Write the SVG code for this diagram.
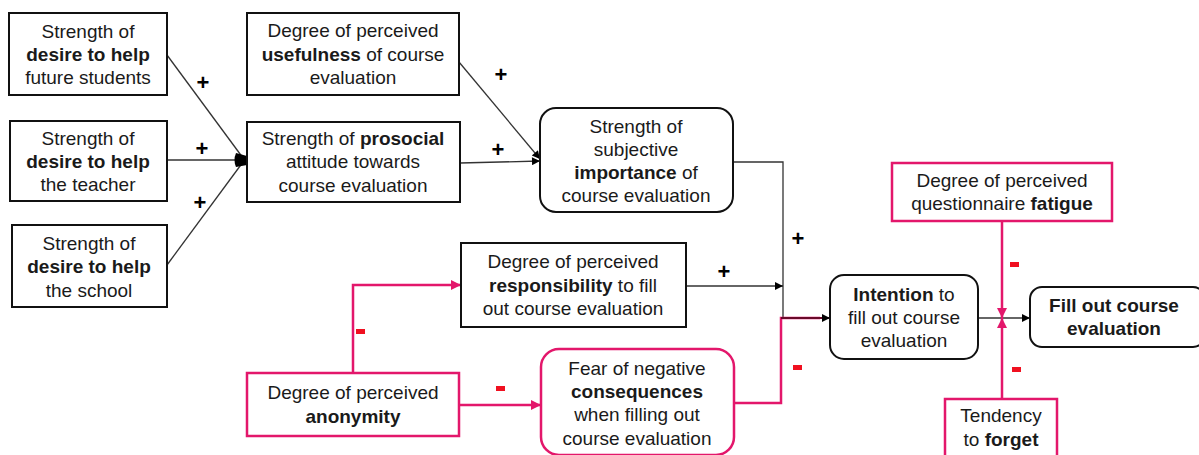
<svg xmlns="http://www.w3.org/2000/svg" width="1199" height="455" viewBox="0 0 1199 455">
<style>
text{font-family:"Liberation Sans",Arial,sans-serif;font-size:19px;fill:#1a1a1a;text-anchor:middle}
.b{font-weight:bold}
.box{fill:#fff;stroke:#111;stroke-width:2}
.pbox{fill:#fff;stroke:#e3176b;stroke-width:2.5}
.ln{fill:none;stroke:#333;stroke-width:1.3}
.pl{fill:none;stroke:#e3176b;stroke-width:2.5}
.plus{font-weight:bold;font-size:22px;fill:#000}
.minus{fill:#f01020}
</style>
<defs>
<marker id="ah" viewBox="0 0 10 10" refX="10" refY="5" markerWidth="10" markerHeight="8" markerUnits="userSpaceOnUse" orient="auto"><path d="M0,0 L10,5 L0,10 z" fill="#000"/></marker>
<marker id="ap" viewBox="0 0 10 10" refX="10" refY="5" markerWidth="11" markerHeight="10" markerUnits="userSpaceOnUse" orient="auto"><path d="M0,0 L10,5 L0,10 z" fill="#e3176b"/></marker>
</defs>
<g id="connectors">
<line class="ln" x1="167" y1="55" x2="243" y2="158"/>
<line class="ln" x1="167" y1="160" x2="243" y2="160"/>
<line class="ln" x1="167" y1="265" x2="243" y2="162"/>
<path d="M236,153 L247,156 L247,165 L236,167 Q233,160 236,153 z" fill="#000"/>
<line class="ln" x1="459" y1="62" x2="540" y2="159" marker-end="url(#ah)"/>
<line class="ln" x1="460" y1="163" x2="540" y2="161" marker-end="url(#ah)"/>
<polyline class="ln" points="733,162 783,162 783,318"/>
<line class="ln" x1="686" y1="286" x2="783" y2="286" marker-end="url(#ah)"/>
<polyline class="pl" points="734,403 781,403 781,318 820,318"/>
<line x1="781" y1="318" x2="830" y2="318" stroke="#6a0a2a" stroke-width="2" marker-end="url(#ah)"/>
<polyline class="pl" points="353,373 353,285 461,285" marker-end="url(#ap)"/>
<line class="pl" x1="459" y1="405" x2="541" y2="405" marker-end="url(#ap)"/>
<line class="ln" x1="968" y1="318" x2="1030" y2="318" marker-end="url(#ah)"/>
<line class="pl" x1="1002" y1="221" x2="1002" y2="318" marker-end="url(#ap)"/>
<line class="pl" x1="1002" y1="399" x2="1002" y2="318" marker-end="url(#ap)"/>
<text class="plus" x="203" y="90">+</text>
<text class="plus" x="202" y="156">+</text>
<text class="plus" x="200" y="210">+</text>
<text class="plus" x="501" y="82">+</text>
<text class="plus" x="498" y="157">+</text>
<text class="plus" x="724" y="279">+</text>
<text class="plus" x="798" y="246">+</text>
<rect class="minus" x="356" y="329" width="9" height="5"/>
<rect class="minus" x="496" y="386" width="9" height="5"/>
<rect class="minus" x="793" y="365" width="9" height="5"/>
<rect class="minus" x="1010" y="262" width="9" height="5"/>
<rect class="minus" x="1012" y="367" width="9" height="5"/>
</g>
<g id="n1"><rect class="box" x="9" y="13" width="158" height="82"/>
<text x="88" y="38">Strength of</text><text x="88" y="61" class="b">desire to help</text><text x="88" y="84">future students</text></g>
<g id="n2"><rect class="box" x="10" y="121" width="157" height="80"/>
<text x="88" y="145">Strength of</text><text x="88" y="168" class="b">desire to help</text><text x="88" y="191">the teacher</text></g>
<g id="n3"><rect class="box" x="12" y="225" width="155" height="82"/>
<text x="89" y="250">Strength of</text><text x="89" y="273" class="b">desire to help</text><text x="89" y="297">the school</text></g>
<g id="n4"><rect class="box" x="247" y="13" width="212" height="82"/>
<text x="353" y="37">Degree of perceived</text><text x="353" y="61"><tspan class="b">usefulness</tspan> of course</text><text x="353" y="84">evaluation</text></g>
<g id="n5"><rect class="box" x="247" y="122" width="213" height="80"/>
<text x="353" y="145">Strength of <tspan class="b">prosocial</tspan></text><text x="353" y="168">attitude towards</text><text x="353" y="192">course evaluation</text></g>
<g id="n6"><rect class="box" x="540" y="108" width="193" height="104" rx="16"/>
<text x="636" y="133">Strength of</text><text x="636" y="156">subjective</text><text x="636" y="179"><tspan class="b">importance</tspan> of</text><text x="636" y="202">course evaluation</text></g>
<g id="n7"><rect class="box" x="461" y="243" width="225" height="84"/>
<text x="573" y="268">Degree of perceived</text><text x="573" y="292"><tspan class="b">responsibility</tspan> to fill</text><text x="573" y="315">out course evaluation</text></g>
<g id="n8"><rect class="pbox" x="541" y="349" width="193" height="106" rx="18"/>
<text x="637" y="375">Fear of negative</text><text x="637" y="398" class="b">consequences</text><text x="637" y="421">when filling out</text><text x="637" y="445">course evaluation</text></g>
<g id="n9"><rect class="pbox" x="247" y="373" width="212" height="63"/>
<text x="353" y="399">Degree of perceived</text><text x="353" y="423" class="b">anonymity</text></g>
<g id="n10"><rect class="box" x="830" y="275" width="148" height="84" rx="14"/>
<text x="904" y="301"><tspan class="b">Intention</tspan> to</text><text x="904" y="324">fill out course</text><text x="904" y="347">evaluation</text></g>
<g id="n11"><rect class="box" x="1030" y="287" width="175" height="60" rx="12"/>
<text x="1114" y="312" class="b">Fill out course</text><text x="1114" y="335" class="b">evaluation</text></g>
<g id="n12"><rect class="pbox" x="892" y="163" width="220" height="58"/>
<text x="1002" y="187">Degree of perceived</text><text x="1002" y="210">questionnaire <tspan class="b">fatigue</tspan></text></g>
<g id="n13"><rect class="pbox" x="945" y="399" width="112" height="62"/>
<text x="1001" y="422">Tendency</text><text x="1001" y="446">to <tspan class="b">forget</tspan></text></g>
</svg>
